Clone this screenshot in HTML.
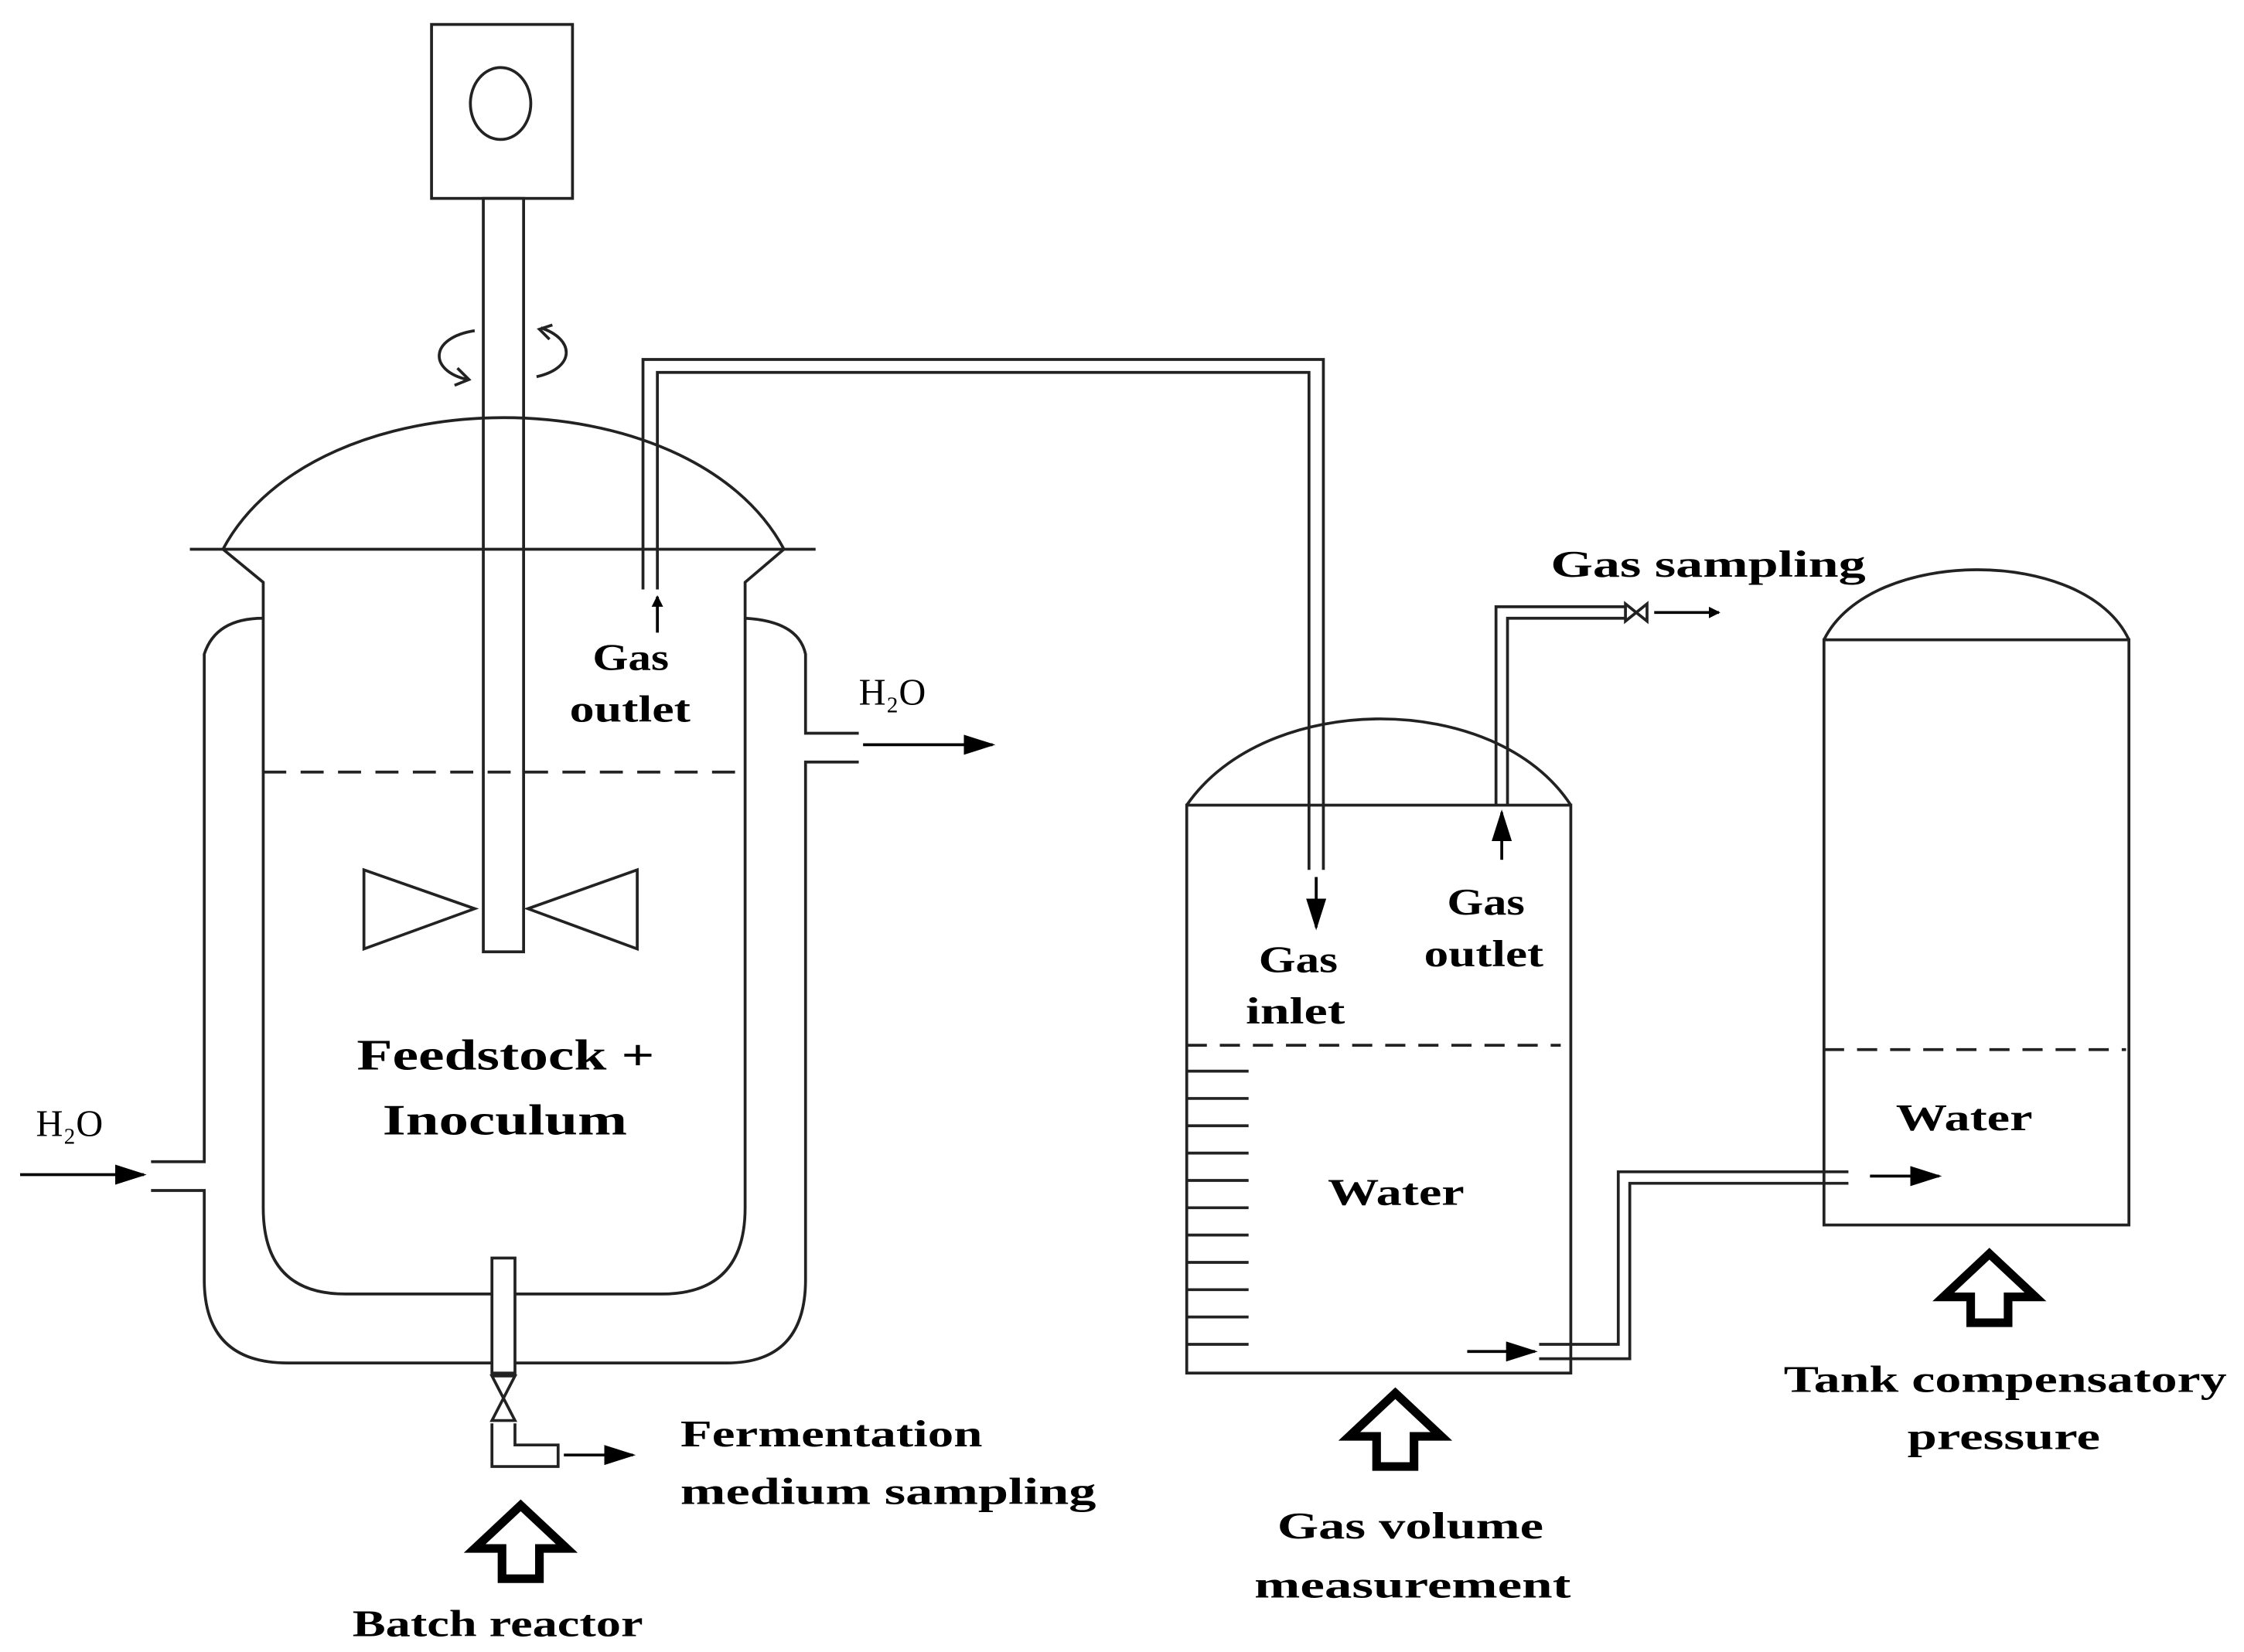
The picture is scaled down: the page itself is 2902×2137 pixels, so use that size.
<!DOCTYPE html>
<html><head><meta charset="utf-8"><style>html,body{margin:0;padding:0;background:#fff}svg{display:block}
text{font-family:"Liberation Serif",serif;font-weight:bold;fill:#000}</style></head><body>
<svg width="2902" height="2137" viewBox="0 0 1560 1149" preserveAspectRatio="none" xmlns="http://www.w3.org/2000/svg">
<defs><marker id="a" markerWidth="8" markerHeight="8" refX="7" refY="4" orient="auto" markerUnits="userSpaceOnUse"><path d="M0,0L8,4L0,8z" fill="#000"/></marker>
<marker id="b" markerWidth="22" markerHeight="14" refX="20" refY="7" orient="auto" markerUnits="userSpaceOnUse"><path d="M0,0L22,7L0,14z" fill="#000"/></marker></defs>
<g fill="none" stroke="#222" stroke-width="2">
<rect x="300" y="17" width="98" height="121"/><ellipse cx="348" cy="72" rx="21" ry="25"/>
<rect x="336" y="138" width="28" height="524" fill="#fff"/>
<path d="M330,230 C298,235 298,258 325,264 M318,256 L326,264 L316,268 M376,228 C400,236 400,256 373,262 M384,226 L375,229 L382,236"/>
<path d="M155,382 C220,260 480,260 545,382"/>
<line x1="132" y1="382" x2="567" y2="382"/>
<path d="M155,382 L183,405 L183,840 Q183,900 240,900 L460,900 Q518,900 518,840 L518,405 L545,382"/>
<path d="M183,430 Q150,430 142,455 L142,808 L105,808 M105,828 L142,828 L142,890 Q142,948 200,948 L505,948 Q560,948 560,890 L560,530 L597,530 M597,510 L560,510 L560,455 Q555,432 518,430"/>
<line x1="183" y1="537" x2="518" y2="537" stroke-dasharray="16,10"/>
<path d="M253,605 L253,660 L330,632z M443,605 L443,660 L367,632z"/>
<rect x="342" y="875" width="16" height="80" fill="#fff"/>
<path d="M342,957 L358,957 L342,988 L358,988z"/>
<path d="M342,990 L342,1020 L388,1020 L388,1005 L358,1005 L358,990"/>
<path d="M447,410 L447,250 L920,250 L920,605 M457,410 L457,259 L910,259 L910,605"/>
<path d="M825,560 C880,480 1040,480 1092,560"/>
<rect x="825" y="560" width="267" height="395"/>
<path d="M1040,560 L1040,422 L1130,422 M1048,560 L1048,430 L1130,430"/>
<path d="M1130,420 L1130,432 L1145,420 L1145,432z"/>
<line x1="825" y1="727" x2="1085" y2="727" stroke-dasharray="14,9"/>
<path d="M825,745h43M825,764h43M825,783h43M825,802h43M825,821h43M825,840h43M825,859h43M825,878h43M825,897h43M825,916h43M825,935h43"/>
<path d="M1070,935 L1125,935 L1125,815 L1285,815 M1070,945 L1133,945 L1133,823 L1285,823"/>
<path d="M1268,445 C1300,380 1450,380 1480,445"/>
<rect x="1268" y="445" width="212" height="407"/>
<line x1="1268" y1="730" x2="1478" y2="730" stroke-dasharray="14,9"/>
</g>
<g stroke="#000" stroke-width="2" fill="none">
<line x1="14" y1="817" x2="100" y2="817" marker-end="url(#b)"/>
<line x1="600" y1="518" x2="690" y2="518" marker-end="url(#b)"/>
<line x1="392" y1="1012" x2="440" y2="1012" marker-end="url(#b)"/>
<line x1="457" y1="440" x2="457" y2="415" marker-end="url(#a)"/>
<line x1="915" y1="610" x2="915" y2="645" marker-end="url(#b)"/>
<line x1="1044" y1="598" x2="1044" y2="565" marker-end="url(#b)"/>
<line x1="1150" y1="426" x2="1195" y2="426" marker-end="url(#a)"/>
<line x1="1020" y1="940" x2="1067" y2="940" marker-end="url(#b)"/>
<line x1="1300" y1="818" x2="1348" y2="818" marker-end="url(#b)"/>
</g>
<g fill="#fff" stroke="#000" stroke-width="6">
<path d="M362,1047 L394,1077 L375,1077 L375,1098 L349,1098 L349,1077 L330,1077z"/>
<path d="M970,969 L1002,999 L983,999 L983,1020 L957,1020 L957,999 L938,999z"/>
<path d="M1383,872 L1415,902 L1396,902 L1396,920 L1370,920 L1370,902 L1351,902z"/>
</g>
<g font-size="26" lengthAdjust="spacingAndGlyphs">
<text x="248" y="744" font-size="30" textLength="207" lengthAdjust="spacingAndGlyphs">Feedstock +</text>
<text x="266" y="789" font-size="30" textLength="170" lengthAdjust="spacingAndGlyphs">Inoculum</text>
<text x="25" y="790" style="font-weight:normal">H₂O</text>
<text x="597" y="490" style="font-weight:normal">H₂O</text>
<text x="412" y="466" textLength="53" lengthAdjust="spacingAndGlyphs">Gas</text><text x="396" y="502" textLength="84" lengthAdjust="spacingAndGlyphs">outlet</text>
<text x="473" y="1006" textLength="210" lengthAdjust="spacingAndGlyphs">Fermentation</text>
<text x="473" y="1046" textLength="289" lengthAdjust="spacingAndGlyphs">medium sampling</text>
<text x="245" y="1138" textLength="202" lengthAdjust="spacingAndGlyphs">Batch reactor</text>
<text x="1078" y="401" textLength="219" lengthAdjust="spacingAndGlyphs">Gas sampling</text>
<text x="875" y="676" textLength="55" lengthAdjust="spacingAndGlyphs">Gas</text><text x="866" y="712" textLength="69" lengthAdjust="spacingAndGlyphs">inlet</text>
<text x="1006" y="636" textLength="54" lengthAdjust="spacingAndGlyphs">Gas</text><text x="990" y="672" textLength="83" lengthAdjust="spacingAndGlyphs">outlet</text>
<text x="923" y="838" textLength="95" lengthAdjust="spacingAndGlyphs">Water</text>
<text x="1318" y="786" textLength="95" lengthAdjust="spacingAndGlyphs">Water</text>
<text x="888" y="1070" textLength="185" lengthAdjust="spacingAndGlyphs">Gas volume</text>
<text x="872" y="1111" textLength="220" lengthAdjust="spacingAndGlyphs">measurement</text>
<text x="1240" y="968" textLength="308" lengthAdjust="spacingAndGlyphs">Tank compensatory</text>
<text x="1326" y="1008" textLength="134" lengthAdjust="spacingAndGlyphs">pressure</text>
</g>
</svg>
</body></html>
